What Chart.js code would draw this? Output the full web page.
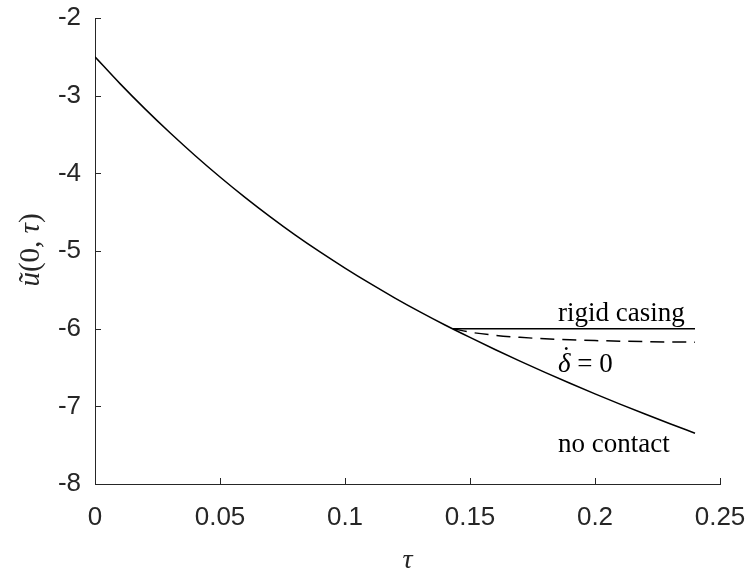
<!DOCTYPE html>
<html>
<head>
<meta charset="utf-8">
<script src="https://cdn.jsdelivr.net/npm/chart.js@4/dist/chart.umd.min.js"></script>
<style>
  html, body { margin: 0; padding: 0; background: #ffffff; }
  #wrap { width: 752px; height: 574px; }
</style>
</head>
<body>
<div id="wrap"><canvas id="c" width="752" height="574"></canvas></div>
<script>
// ---- data ----
const xTickValues = [0, 0.05, 0.1, 0.15, 0.2, 0.25];
const xTickLabels = ['0', '0.05', '0.1', '0.15', '0.2', '0.25'];
const yTickValues = [-8, -7, -6, -5, -4, -3, -2];
const yTickLabels = ['-8', '-7', '-6', '-5', '-4', '-3', '-2'];

const tauNoContact = [0, 0.01, 0.02, 0.03, 0.04, 0.05, 0.06, 0.07, 0.08, 0.09, 0.10, 0.11, 0.12, 0.13, 0.14, 0.15, 0.16, 0.17, 0.18, 0.19, 0.20, 0.21, 0.22, 0.23, 0.24];
const uNoContact   = [-2.500, -2.845, -3.170, -3.478, -3.770, -4.047, -4.309, -4.557, -4.792, -5.012, -5.220, -5.418, -5.606, -5.784, -5.953, -6.113, -6.268, -6.418, -6.563, -6.703, -6.839, -6.971, -7.099, -7.224, -7.346];

const tauRigid = [0.1432, 0.24];
const uRigid   = [-6.0, -6.0];

const tauDeltaDot = [0.1432, 0.15, 0.16, 0.17, 0.18, 0.19, 0.20, 0.21, 0.22, 0.23, 0.24];
const uDeltaDot   = [-6.000, -6.045, -6.085, -6.112, -6.130, -6.143, -6.153, -6.161, -6.167, -6.171, -6.174];

const curveLabels = ['rigid casing', 'no contact'];
const deltaLabel = ['\u03B4', ' = 0', '\u02D9'];
const xTitle = '\u03C4';

// ---- build chart ----
function pts(xs, ys) { return xs.map((x, i) => ({ x: x, y: ys[i] })); }

const AXIS = '#262626';
const SERIF = '"Liberation Serif", "DejaVu Serif", serif';
const SANS = '"Liberation Sans", Arial, sans-serif';

const labelPos = {
  rigid: { x: 0.1852, y: -5.90 },
  noContact: { x: 0.1852, y: -7.59 },
  delta: { x: 0.1852, y: -6.56 }
};

const decorPlugin = {
  id: 'decor',
  afterDraw(chart) {
    const ctx = chart.ctx;
    const xs = chart.scales.x, ys = chart.scales.y;
    ctx.save();
    // inward ticks
    ctx.strokeStyle = AXIS;
    ctx.lineWidth = 1;
    ctx.beginPath();
    xTickValues.forEach(v => {
      const px = Math.round(xs.getPixelForValue(v)) + 0.5;
      ctx.moveTo(px, ys.bottom);
      ctx.lineTo(px, ys.bottom - 6);
    });
    yTickValues.forEach(v => {
      const py = Math.round(ys.getPixelForValue(v)) + 0.5;
      ctx.moveTo(xs.left, py);
      ctx.lineTo(xs.left + 6, py);
    });
    ctx.stroke();

    // curve labels
    ctx.fillStyle = '#000';
    ctx.textBaseline = 'alphabetic';
    ctx.textAlign = 'left';
    ctx.font = '27px ' + SERIF;
    ctx.fillText(curveLabels[0], xs.getPixelForValue(labelPos.rigid.x), ys.getPixelForValue(labelPos.rigid.y));
    ctx.fillText(curveLabels[1], xs.getPixelForValue(labelPos.noContact.x), ys.getPixelForValue(labelPos.noContact.y));
    let dx = xs.getPixelForValue(labelPos.delta.x), dy = ys.getPixelForValue(labelPos.delta.y);
    ctx.font = 'italic 27px ' + SERIF;
    ctx.fillText(deltaLabel[0], dx, dy);
    const dw = ctx.measureText(deltaLabel[0]).width;
    ctx.font = '27px ' + SERIF;
    ctx.textAlign = 'center';
    ctx.fillText(deltaLabel[2], dx + dw / 2 + 2, dy - 7);
    ctx.textAlign = 'left';
    ctx.fillText(deltaLabel[1], dx + dw, dy);

    // x title
    ctx.font = 'italic 28px ' + SERIF;
    ctx.textAlign = 'center';
    ctx.textBaseline = 'middle';
    ctx.fillStyle = AXIS;
    ctx.fillText(xTitle, (xs.left + xs.right) / 2, 561);

    // y title (rotated)
    ctx.translate(31, 250);
    ctx.rotate(-Math.PI / 2);
    const parts = [['\u0169', 'italic '], ['(0, ', ''], ['\u03C4', 'italic '], [')', '']];
    let total = 0;
    parts.forEach(p => { ctx.font = p[1] + '29px ' + SERIF; total += ctx.measureText(p[0]).width; });
    let cx = -total / 2;
    ctx.textAlign = 'left';
    parts.forEach(p => {
      ctx.font = p[1] + '29px ' + SERIF;
      ctx.fillText(p[0], cx, 0);
      cx += ctx.measureText(p[0]).width;
    });
    ctx.restore();
  }
};

new Chart(document.getElementById('c'), {
  type: 'scatter',
  data: {
    datasets: [
      { label: 'no contact', data: pts(tauNoContact, uNoContact), showLine: true, borderColor: '#000', borderWidth: 1.5, pointRadius: 0, tension: 0.4, cubicInterpolationMode: 'monotone', fill: false },
      { label: 'rigid casing', data: pts(tauRigid, uRigid), showLine: true, borderColor: '#000', borderWidth: 1.5, pointRadius: 0, fill: false },
      { label: 'delta dot = 0', data: pts(tauDeltaDot, uDeltaDot), showLine: true, borderColor: '#000', borderWidth: 1.5, borderDash: [14, 8], pointRadius: 0, tension: 0.4, cubicInterpolationMode: 'monotone', fill: false }
    ]
  },
  options: {
    responsive: false,
    animation: false,
    devicePixelRatio: 1,
    layout: { padding: { left: 0, right: 32, top: 18, bottom: 0 } },
    plugins: { legend: { display: false }, tooltip: { enabled: false } },
    scales: {
      x: {
        type: 'linear', min: 0, max: 0.25,
        afterBuildTicks: s => { s.ticks = xTickValues.map(v => ({ value: v })); },
        afterFit: s => { s.height = 90; s.paddingLeft = 0; s.paddingRight = 0; },
        grid: { display: true, drawOnChartArea: false, drawTicks: false },
        border: { display: true, color: AXIS, width: 1 },
        ticks: {
          color: AXIS, padding: 18, maxRotation: 0, autoSkip: false,
          font: { family: SANS, size: 26 },
          callback: (v) => { const i = xTickValues.findIndex(t => Math.abs(t - v) < 1e-9); return i >= 0 ? xTickLabels[i] : ''; }
        },
        title: { display: false }
      },
      y: {
        type: 'linear', min: -8, max: -2,
        afterBuildTicks: s => { s.ticks = yTickValues.map(v => ({ value: v })); },
        afterFit: s => { s.width = 95; s.paddingTop = 0; s.paddingBottom = 0; },
        grid: { display: true, drawOnChartArea: false, drawTicks: false },
        border: { display: true, color: AXIS, width: 1 },
        ticks: {
          color: AXIS, padding: 14, autoSkip: false,
          font: { family: SANS, size: 26 },
          callback: (v) => { const i = yTickValues.findIndex(t => Math.abs(t - v) < 1e-9); return i >= 0 ? yTickLabels[i] : ''; }
        },
        title: { display: false }
      }
    }
  },
  plugins: [decorPlugin]
});
</script>
</body>
</html>
